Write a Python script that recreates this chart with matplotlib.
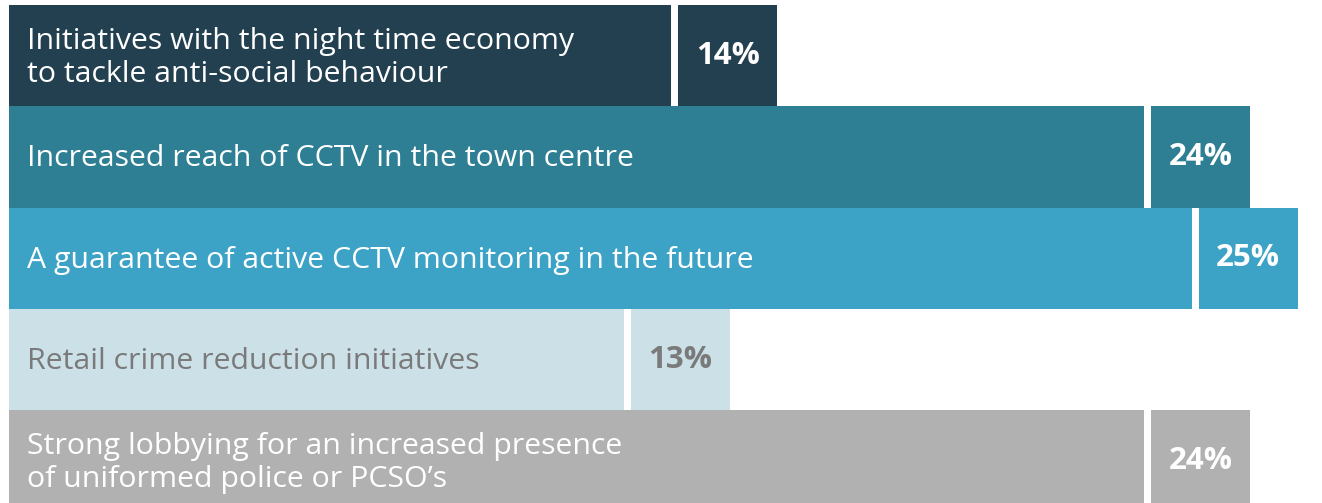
import matplotlib.pyplot as plt

labels = [
    "Initiatives with the night time economy\nto tackle anti-social behaviour",
    "Increased reach of CCTV in the town centre",
    "A guarantee of active CCTV monitoring in the future",
    "Retail crime reduction initiatives",
    "Strong lobbying for an increased presence\nof uniformed police or PCSO\u2019s",
]
values = [14, 24, 25, 13, 24]
bar_colors = ["#22404f", "#2e7f94", "#3ca3c7", "#cce0e8", "#b1b1b1"]
text_colors = ["white", "white", "white", "#7a7a7a", "white"]

W, H = 1322, 503
px = 47.3          # pixels per percentage point
box_w = 99 / px    # width of the value box
gap = 7 / px       # white gap between bar and value box

fig = plt.figure(figsize=(W / 100, H / 100), dpi=100)
ax = fig.add_axes([0, 0, 1, 1])
ax.set_xlim(-9 / px, (W - 9) / px)
row_px = 101.3
ax.set_ylim(-0.5 + (H - 5) / row_px, -0.5 - 5 / row_px)
ax.axis("off")

ys = range(len(values))
ax.barh(ys, values, height=1.0, left=0, color=bar_colors, linewidth=0)
ax.barh(ys, [box_w] * len(values), height=1.0,
        left=[v + gap for v in values], color=bar_colors, linewidth=0)

for y, lab, v, tc in zip(ys, labels, values, text_colors):
    ax.text(18 / px, y + 0.02, lab, va="center", ha="left", color=tc,
            fontsize=21.8, family="Open Sans", linespacing=1.17)
    ax.text(v + gap + box_w / 2, y, f"{v}%", va="center", ha="center",
            color=tc, fontsize=22.5, family="Open Sans", fontweight="bold")

fig.savefig("out.png", dpi=100)
